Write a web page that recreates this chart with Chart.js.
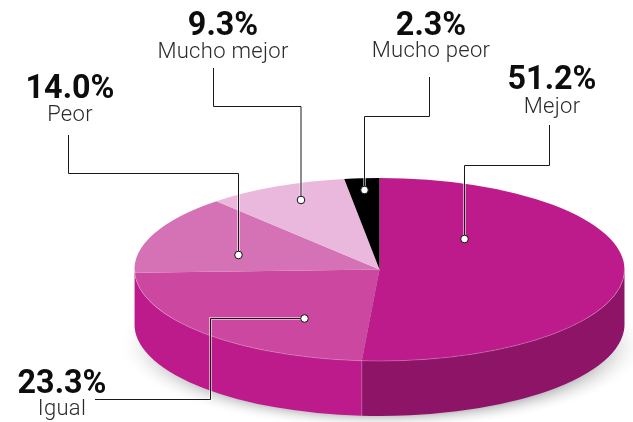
<!DOCTYPE html>
<html>
<head>
<meta charset="utf-8">
<title>Pie</title>
<script src="https://cdn.jsdelivr.net/npm/chart.js@4"></script>
<style>
  html, body { margin: 0; padding: 0; background: #fff; }
  #wrap { width: 633px; height: 422px; position: relative; }
</style>
</head>
<body>
<div id="wrap"><canvas id="pie"></canvas></div>
<script>
// Data
const categories = ['Mejor', 'Igual', 'Peor', 'Mucho mejor', 'Mucho peor'];
const values = [51.2, 23.3, 14.0, 9.3, 2.3];
const valueLabels = ['51.2%', '23.3%', '14.0%', '9.3%', '2.3%'];

// Colours
const topColors = ['#bd1a8b', '#cc479f', '#d572b6', '#eab8dc', '#000000'];
const wallColors = ['#8e1468', '#bd1a8b', '#bd1a8b', '#bd1a8b', '#bd1a8b'];

// Where the flat pie ends up on the page
const disc = { x: 379.5, y: 269.5, rx: 245, ry: 91.5, depth: 55 };

// Label and leader layout, same order as categories
const callouts = [
  { x: 552, valueY: 89, labelY: 113, path: [[549.5, 125], [549.5, 165.5], [464.5, 165.5], [464.5, 239]] },
  { x: 62, valueY: 393, labelY: 415, path: [[95, 399.5], [210.5, 399.5], [210.5, 318.5], [304.5, 318.5]] },
  { x: 70, valueY: 98, labelY: 121, path: [[68.5, 135], [68.5, 173.5], [238.5, 173.5], [238.5, 255]] },
  { x: 223, valueY: 35, labelY: 58, path: [[213.5, 68], [213.5, 106.5], [301, 106.5], [301, 200]] },
  { x: 431, valueY: 35, labelY: 57, path: [[429.5, 77], [429.5, 116.5], [364.5, 116.5], [364.5, 190]] }
];

const pie3d = {
  id: 'pie3d',

  beforeDatasetsDraw(chart) {
    const ctx = chart.ctx;
    const arcs = chart.getDatasetMeta(0).data;

    // soft shadow under the pie
    ctx.save();
    ctx.translate(disc.x + 3, disc.y + 76);
    ctx.scale(1, 84 / 264);
    const shadow = ctx.createRadialGradient(0, 0, 0, 0, 0, 264);
    shadow.addColorStop(0, '#a9aaac');
    shadow.addColorStop(0.8, '#a9aaac');
    shadow.addColorStop(1, 'rgba(255,255,255,0)');
    ctx.fillStyle = shadow;
    ctx.beginPath();
    ctx.arc(0, 0, 264, 0, Math.PI * 2);
    ctx.fill();
    ctx.restore();

    // side wall, only the part of each slice that faces us
    arcs.forEach((arc, i) => {
      const a0 = Math.max(arc.startAngle, 0);
      const a1 = Math.min(arc.endAngle, Math.PI);
      if (a1 <= a0) return;
      ctx.beginPath();
      ctx.ellipse(disc.x, disc.y, disc.rx, disc.ry, 0, a0, a1);
      ctx.ellipse(disc.x, disc.y + disc.depth, disc.rx, disc.ry, 0, a1, a0, true);
      ctx.closePath();
      ctx.fillStyle = wallColors[i];
      ctx.fill();
    });

    // squash the library's circle into the top of the pie
    const first = arcs[0];
    ctx.save();
    ctx.translate(disc.x, disc.y);
    ctx.scale(disc.rx / first.outerRadius, disc.ry / first.outerRadius);
    ctx.translate(-first.x, -first.y);
  },

  afterDatasetsDraw(chart) {
    const ctx = chart.ctx;
    const arcs = chart.getDatasetMeta(0).data;
    ctx.restore();

    // pale rim along the front edge and at the wall seam
    ctx.strokeStyle = 'rgba(255,255,255,0.3)';
    ctx.lineWidth = 0.8;
    ctx.beginPath();
    ctx.ellipse(disc.x, disc.y, disc.rx, disc.ry, 0, 0, Math.PI);
    ctx.stroke();
    const seam = arcs[0].endAngle;
    const seamX = disc.x + disc.rx * Math.cos(seam);
    const seamY = disc.y + disc.ry * Math.sin(seam);
    ctx.beginPath();
    ctx.moveTo(seamX, seamY);
    ctx.lineTo(seamX, seamY + disc.depth);
    ctx.stroke();
  },

  afterDraw(chart) {
    const ctx = chart.ctx;
    ctx.save();

    callouts.forEach((c, i) => {
      const end = c.path[c.path.length - 1];
      ctx.beginPath();
      c.path.forEach((p, k) => k ? ctx.lineTo(p[0], p[1]) : ctx.moveTo(p[0], p[1]));
      ctx.strokeStyle = 'rgba(255,255,255,0.55)';
      ctx.lineWidth = 3;
      ctx.stroke();
      ctx.strokeStyle = '#1a1a1a';
      ctx.lineWidth = 1;
      ctx.stroke();

      ctx.beginPath();
      ctx.arc(end[0], end[1], 3.8, 0, Math.PI * 2);
      ctx.fillStyle = '#fff';
      ctx.fill();
      ctx.strokeStyle = '#111';
      ctx.lineWidth = 1;
      ctx.stroke();

      ctx.textAlign = 'center';
      ctx.textBaseline = 'alphabetic';

      // the big numbers are a bit condensed in the original
      ctx.save();
      ctx.translate(c.x, c.valueY);
      ctx.scale(0.95, 1);
      ctx.fillStyle = '#0d0d0d';
      ctx.font = '700 34px Roboto';
      ctx.fillText(valueLabels[i], 0, 0);
      ctx.restore();

      ctx.fillStyle = '#2b2b2b';
      ctx.font = '300 22px Roboto';
      ctx.letterSpacing = '0.3px';
      ctx.fillText(categories[i], c.x, c.labelY);
      ctx.letterSpacing = '0px';
    });

    ctx.restore();
  }
};

new Chart(document.getElementById('pie'), {
  type: 'pie',
  data: {
    labels: categories,
    datasets: [{
      data: values,
      backgroundColor: topColors,
      borderWidth: 0
    }]
  },
  options: {
    responsive: true,
    maintainAspectRatio: false,
    animation: false,
    plugins: { legend: { display: false }, tooltip: { enabled: false } }
  },
  plugins: [pie3d]
});
</script>
</body>
</html>
